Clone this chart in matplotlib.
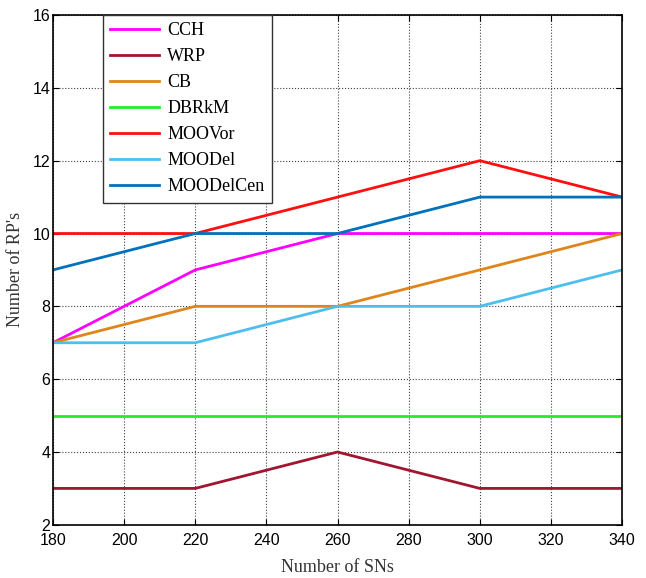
import matplotlib
matplotlib.use('Agg')
import matplotlib.pyplot as plt

sns_x = [180, 220, 260, 300, 340]

cch = [7, 9, 10, 10, 10]
wrp = [3, 3, 4, 3, 3]
cb = [7, 8, 8, 9, 10]
dbrkm = [5, 5, 5, 5, 5]
moovor = [10, 10, 11, 12, 11]
moodel = [7, 7, 8, 8, 9]
moodelcen = [9, 10, 10, 11, 11]

names = ['CCH', 'WRP', 'CB', 'DBRkM', 'MOOVor', 'MOODel', 'MOODelCen']
series = [cch, wrp, cb, dbrkm, moovor, moodel, moodelcen]
colors = ['#FF00FF', '#A2142F', '#E0851A', '#22EE22', '#FF0F0F', '#4DBEEE', '#0072BD']

fig = plt.figure(figsize=(6.46, 5.78), dpi=100)
ax = fig.add_axes([0.082, 0.092, 0.881, 0.882])

for name, vals, c in zip(names, series, colors):
    ax.plot(sns_x, vals, color=c, linewidth=2, label=name)

ax.set_xlim(180, 340)
ax.set_ylim(2, 16)
ax.set_xticks(range(180, 341, 20))
ax.set_yticks(range(2, 17, 2))
ax.grid(True, linestyle=':', color='#404040', linewidth=0.8)
ax.tick_params(direction='in', top=True, right=True, length=4, labelsize=11.5)
ax.tick_params(axis='x', pad=6)
ax.tick_params(axis='y', pad=2)
for lbl in ax.get_xticklabels() + ax.get_yticklabels():
    lbl.set_family('Liberation Sans')
for sp in ax.spines.values():
    sp.set_linewidth(1.2)

ax.set_xlabel('Number of SNs', family='Liberation Serif', fontsize=13, color='#333333', labelpad=8)
ax.set_ylabel("Number of RP's", family='Liberation Serif', fontsize=13, color='#333333', labelpad=6)

leg = ax.legend(loc='upper left', bbox_to_anchor=(0.088, 1.0), fancybox=False,
                prop={'family': 'Liberation Serif', 'size': 13}, handlelength=2.7,
                handletextpad=0.45, borderaxespad=0, labelspacing=0.5, framealpha=1)
leg.get_frame().set_edgecolor('#333333')
leg.get_frame().set_linewidth(1.0)

fig.savefig('out.png', dpi=100)
